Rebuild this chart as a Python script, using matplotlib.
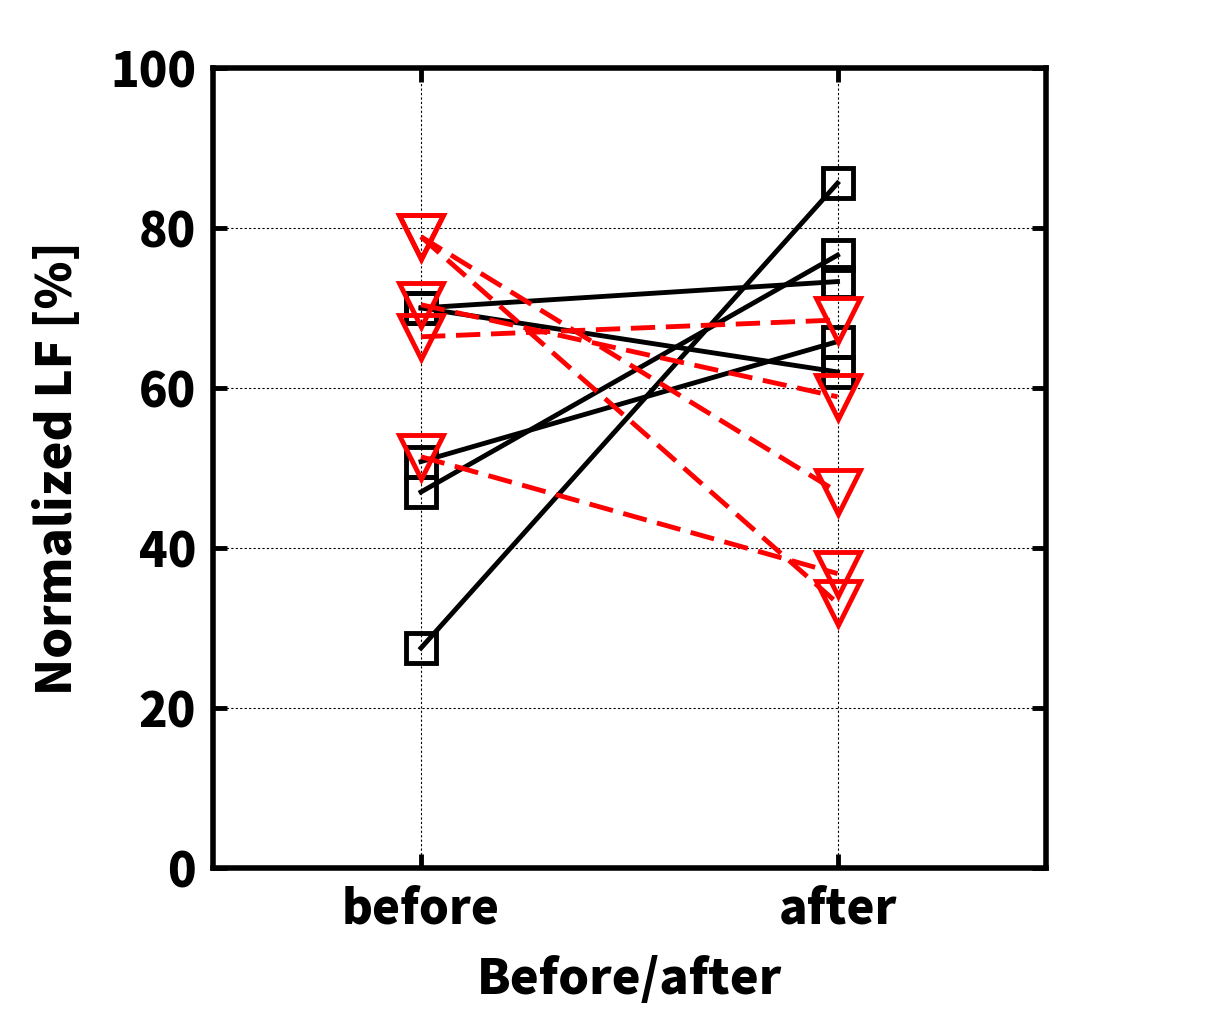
import matplotlib
matplotlib.use("Agg")
from matplotlib import pyplot as plt

plt.rcParams['font.family'] = ['Noto Sans CJK JP', 'DejaVu Sans']
plt.rcParams['font.weight'] = 'heavy'

# values
groups = ["before", "after"]
black_before = [27.5, 47.0, 50.8, 70.0, 70.0]
black_after = [85.6, 76.6, 65.8, 73.3, 62.0]
red_before = [78.9, 78.9, 70.4, 66.4, 51.4]
red_after = [47.0, 33.1, 58.9, 68.5, 36.8]
y_ticks = [0, 20, 40, 60, 80, 100]

fig = plt.figure(figsize=(12.09, 10.22), dpi=100)
ax = fig.add_axes([0.176, 0.1507, 0.689, 0.7828])

xs = [1, 2]
for b, a in zip(black_before, black_after):
    ax.plot(xs, [b, a], color="black", lw=3.5, marker="s", ms=21,
            mfc="none", mec="black", mew=3.5, zorder=3)
for b, a in zip(red_before, red_after):
    ax.plot(xs, [b, a], color="red", lw=3.5, linestyle=(0, (5, 2.2)),
            marker="v", ms=31, mfc="none", mec="red", mew=3.5, zorder=4)

ax.set_xlim(0.5, 2.5)
ax.set_ylim(0, 100)
ax.set_xticks(xs)
ax.set_xticklabels(groups)
ax.set_yticks(y_ticks)
ax.grid(True, color="black", linestyle=(0, (2, 2)), linewidth=0.8)
ax.tick_params(direction="in", length=10, width=3.5, labelsize=34,
               top=True, right=True, pad=12)
for lab in ax.get_xticklabels() + ax.get_yticklabels():
    lab.set_fontweight("heavy")
for s in ax.spines.values():
    s.set_linewidth(4)

ax.set_xlabel("Before/after", fontsize=35, fontweight="heavy", labelpad=16)
ax.set_ylabel("Normalized LF [%]", fontsize=35, fontweight="heavy", labelpad=20)

fig.savefig("out.png", dpi=100)
